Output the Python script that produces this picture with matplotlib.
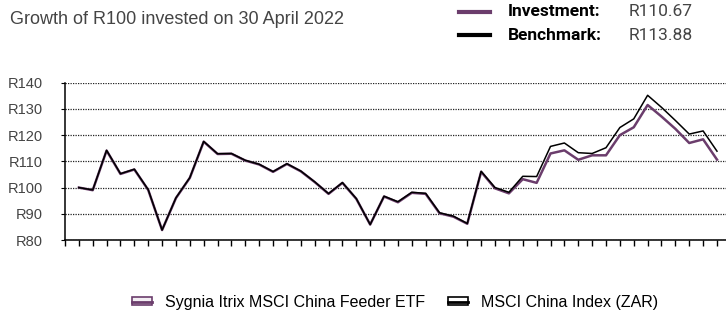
import numpy as np
import matplotlib.pyplot as plt
from matplotlib.lines import Line2D
from matplotlib.patches import Rectangle
from matplotlib.legend_handler import HandlerTuple

plt.rcParams['font.family'] = ['Liberation Sans', 'DejaVu Sans']

# month-end values, Apr 2022 .. Feb 2026
benchmark = [100.0, 99.1, 114.2, 105.3, 107.0, 99.2, 83.8, 96.1, 103.8, 117.6,
             112.9, 113.0, 110.4, 108.9, 106.1, 109.1, 106.3, 102.2, 97.7, 101.9,
             95.8, 85.9, 96.7, 94.6, 98.2, 97.8, 90.4, 89.1, 86.3, 106.2,
             100.0, 98.2, 104.3, 104.2, 115.7, 117.0, 113.3, 113.0, 115.2, 122.9,
             126.2, 135.2, 130.6, 125.6, 120.4, 121.6, 113.88]
investment = [100.0, 99.0, 114.1, 105.2, 106.9, 99.1, 83.8, 96.0, 103.7, 117.5,
              112.8, 112.9, 110.3, 108.8, 106.0, 109.0, 106.2, 102.1, 97.6, 101.8,
              95.7, 85.9, 96.6, 94.4, 98.0, 97.6, 90.2, 88.9, 86.2, 106.0,
              99.7, 97.8, 103.2, 101.8, 113.0, 114.2, 110.6, 112.3, 112.3, 120.0,
              123.0, 131.5, 127.1, 122.4, 117.0, 118.4, 110.67]
label_pos = [9, 19, 29, 39]
label_txt = ['Jan 23', 'Nov 23', 'Sept 24', 'Jul 25']
yticks = [80, 90, 100, 110, 120, 130, 140]

purple = '#6b3d6c'
grey = '#444444'

fig = plt.figure(figsize=(7.26, 3.13), dpi=100)
ax = fig.add_axes([0.0895, 0.2332, 0.9105, 0.5026])

x = np.arange(len(benchmark))
ax.plot(x, investment, color=purple, lw=1.8, zorder=3)
ax.plot(x, benchmark, color='black', lw=1.1, zorder=4)

ax.set_xlim(-1, 46.65)
ax.set_ylim(80, 140)
ax.set_yticks(yticks)
ax.set_yticklabels(['R%d' % v for v in yticks])
ax.yaxis.grid(True, linestyle=(0, (1, 1)), color='#222222', lw=0.9)
ax.set_axisbelow(True)

ax.set_xticks(np.arange(-1, len(benchmark)))
ax.set_xticklabels([''] * (len(benchmark) + 1))
ax.set_xticks(label_pos, minor=True)
ax.set_xticklabels(label_txt, minor=True)
ax.tick_params(axis='x', which='major', length=4, width=1, direction='out')
ax.tick_params(axis='x', which='minor', length=0, pad=14, labelsize=10.5, labelcolor=grey)
ax.tick_params(axis='y', length=3, width=0.8, pad=13, labelsize=10.5, labelcolor=grey)

for s in ['top', 'right']:
    ax.spines[s].set_visible(False)
ax.spines['left'].set_linewidth(1.1)
ax.spines['bottom'].set_linewidth(1.1)

# title and summary block
fig.text(10/726, 1 - 20/313, 'Growth of R100 invested on 30 April 2022',
         fontsize=13, color=grey, va='center', ha='left')
for yy, col, name, val in [(12, purple, 'Investment:', 'R110.67'),
                           (35, 'black', 'Benchmark:', 'R113.88')]:
    fy = 1 - yy/313
    fig.add_artist(Line2D([459/726, 490/726], [fy, fy], color=col, lw=3,
                          transform=fig.transFigure))
    fig.text(508/726, fy, name, fontsize=12.5, fontweight='bold', color='black',
             va='center', ha='left', family=['Liberation Sans Narrow', 'Roboto'])
    fig.text(629/726, fy, val, fontsize=12.5, color=grey, va='center', ha='left',
             family=['Liberation Sans Narrow', 'Roboto'])

# bottom legend
h1 = (Rectangle((0, 0), 1, 1, facecolor='#f3eef3', edgecolor=purple, lw=1.2),
      Line2D([0], [0], color=purple, lw=2))
h2 = (Rectangle((0, 0), 1, 1, facecolor='white', edgecolor='black', lw=1.2),
      Line2D([0], [0], color='black', lw=2))
fig.legend([h1, h2], ['Sygnia Itrix MSCI China Feeder ETF', 'MSCI China Index (ZAR)'],
           handler_map={tuple: HandlerTuple(ndivide=1)},
           loc='center', bbox_to_anchor=(395/726, 1 - 302/313), ncol=2,
           frameon=False, fontsize=11.5, handlelength=1.3, handleheight=0.45,
           handletextpad=0.8, columnspacing=1.4)

fig.savefig('out.png', dpi=100)
